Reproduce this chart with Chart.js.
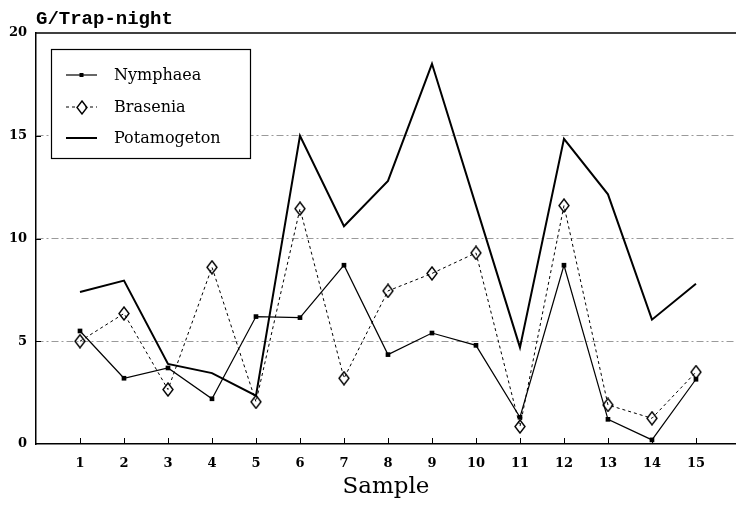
<!DOCTYPE html>
<html><head><meta charset="utf-8">
<style>html,body{margin:0;padding:0;background:#fff}#wrap{width:736px;height:512px}</style>
<script src="https://cdn.jsdelivr.net/npm/chart.js@4.4.0/dist/chart.umd.min.js"></script>
</head><body><div id="wrap"><canvas id="c" width="736" height="512"></canvas></div>
<script>
const samples = [1,2,3,4,5,6,7,8,9,10,11,12,13,14,15];
const nymphaea = [5.5,3.2,3.7,2.2,6.2,6.15,8.7,4.35,5.4,4.8,1.3,8.7,1.2,0.2,3.15];
const brasenia = [5.0,6.35,2.65,8.6,2.05,11.45,3.2,7.45,8.3,9.3,0.85,11.6,1.9,1.25,3.5];
const potamogeton = [7.4,7.95,3.9,3.45,2.35,15.0,10.6,12.8,18.5,11.6,4.7,14.85,12.15,6.05,7.8];
const yTicks = [0,5,10,15,20];
const xTicks = samples;
const seriesNames = ['Nymphaea','Brasenia','Potamogeton'];

function diamondImg(w,h){
  const c=document.createElement('canvas');c.width=w+2;c.height=h+2;
  const g=c.getContext('2d');g.strokeStyle='#000';g.lineWidth=1.4;
  g.beginPath();g.moveTo((w+2)/2,1);g.lineTo(w+1,(h+2)/2);g.lineTo((w+2)/2,h+1);g.lineTo(1,(h+2)/2);g.closePath();g.stroke();
  return c;
}
const diamond = diamondImg(10,13);
const pts = arr => samples.map((s,i)=>({x:s,y:arr[i]}));

const tickFont = {family:'DejaVu Serif', size:13, weight:'bold'};

const decor = {
  id:'decor',
  beforeDatasetsDraw(chart){
    const {ctx, chartArea:a, scales:{x,y}} = chart;
    ctx.save();
    ctx.strokeStyle='#000';ctx.lineWidth=1.5;
    ctx.beginPath();ctx.moveTo(a.left,a.top);ctx.lineTo(a.right,a.top);ctx.stroke();
    ctx.lineWidth=1;
    xTicks.forEach(v=>{const px=Math.round(x.getPixelForValue(v))+0.5;ctx.beginPath();ctx.moveTo(px,a.bottom);ctx.lineTo(px,a.bottom-6);ctx.stroke();});
    yTicks.slice(1,-1).forEach(v=>{const py=Math.round(y.getPixelForValue(v))+0.5;ctx.beginPath();ctx.moveTo(a.left,py);ctx.lineTo(a.left+5,py);ctx.stroke();});
    ctx.restore();
  },
  afterDraw(chart){
    const {ctx, chartArea:a} = chart;
    ctx.save();
    ctx.fillStyle='#000';ctx.font='bold 19px "Liberation Mono"';ctx.textBaseline='alphabetic';ctx.textAlign='left';
    ctx.fillText('G/Trap-night', a.left, 24);
    ctx.fillStyle='#fff';ctx.fillRect(51.5,49.5,199,109);
    ctx.strokeStyle='#000';ctx.lineWidth=1.2;ctx.strokeRect(51.5,49.5,199,109);
    const ys=[75,107,138];
    chart.data.datasets.forEach((ds,i)=>{
      const yy=ys[i];
      ctx.save();
      ctx.strokeStyle='#000';ctx.lineWidth=ds.borderWidth;ctx.setLineDash(ds.borderDash||[]);
      ctx.beginPath();ctx.moveTo(66,yy);ctx.lineTo(97,yy);ctx.stroke();
      ctx.restore();
      if(i===0){ctx.fillStyle='#000';ctx.fillRect(79.5,yy-2,4,4);}
      if(i===1){ctx.fillStyle='#fff';ctx.fillRect(78,yy-5,7,10);ctx.drawImage(diamond,Math.round(81.5-diamond.width/2),Math.round(yy-diamond.height/2));}
      ctx.fillStyle='#000';ctx.font='16px "DejaVu Serif"';ctx.textBaseline='middle';
      ctx.fillText(ds.label,114,yy+1);
    });
    ctx.restore();
  }
};

new Chart(document.getElementById('c'),{
  type:'line',
  data:{datasets:[
    {label:seriesNames[0],data:pts(nymphaea),borderColor:'#000',backgroundColor:'#000',borderWidth:1.2,pointStyle:'rect',pointRadius:3.3,pointBorderWidth:0,pointBackgroundColor:'#000',tension:0,fill:false},
    {label:seriesNames[1],data:pts(brasenia),borderColor:'#000',borderWidth:1,borderDash:[3,3],pointStyle:diamond,pointRadius:6,tension:0,fill:false},
    {label:seriesNames[2],data:pts(potamogeton),borderColor:'#000',borderWidth:2,pointRadius:0,tension:0,fill:false}
  ]},
  options:{
    responsive:false,animation:false,devicePixelRatio:1,
    layout:{autoPadding:false,padding:{top:33,right:0,bottom:0,left:0}},
    plugins:{legend:{display:false},tooltip:{enabled:false}},
    scales:{
      x:{type:'linear',min:0,max:15.91,
        afterBuildTicks:s=>{s.ticks=xTicks.map(v=>({value:v}));},
        afterFit:s=>{s.height=68;s.paddingLeft=0;s.paddingRight=0;},
        ticks:{font:tickFont,color:'#000',padding:12,autoSkip:false,maxRotation:0},
        grid:{display:false,drawTicks:false},
        border:{display:true,color:'#000',width:1.5},
        title:{display:true,text:'Sample',color:'#000',font:{family:'DejaVu Serif',size:23,lineHeight:1},padding:{top:0,bottom:13}}
      },
      y:{type:'linear',min:0,max:20,
        afterBuildTicks:s=>{s.ticks=yTicks.map(v=>({value:v}));},
        afterFit:s=>{s.width=36;},
        ticks:{font:tickFont,color:'#000',padding:9},
        grid:{drawTicks:false,lineWidth:1,color:c=>(c.tick&&(c.tick.value===0||c.tick.value===20))?'rgba(0,0,0,0)':'#9a9a9a'},
        border:{display:true,color:'#000',width:1.5,dash:[7,3,2,3]}
      }
    }
  },
  plugins:[decor]
});
</script></body></html>
